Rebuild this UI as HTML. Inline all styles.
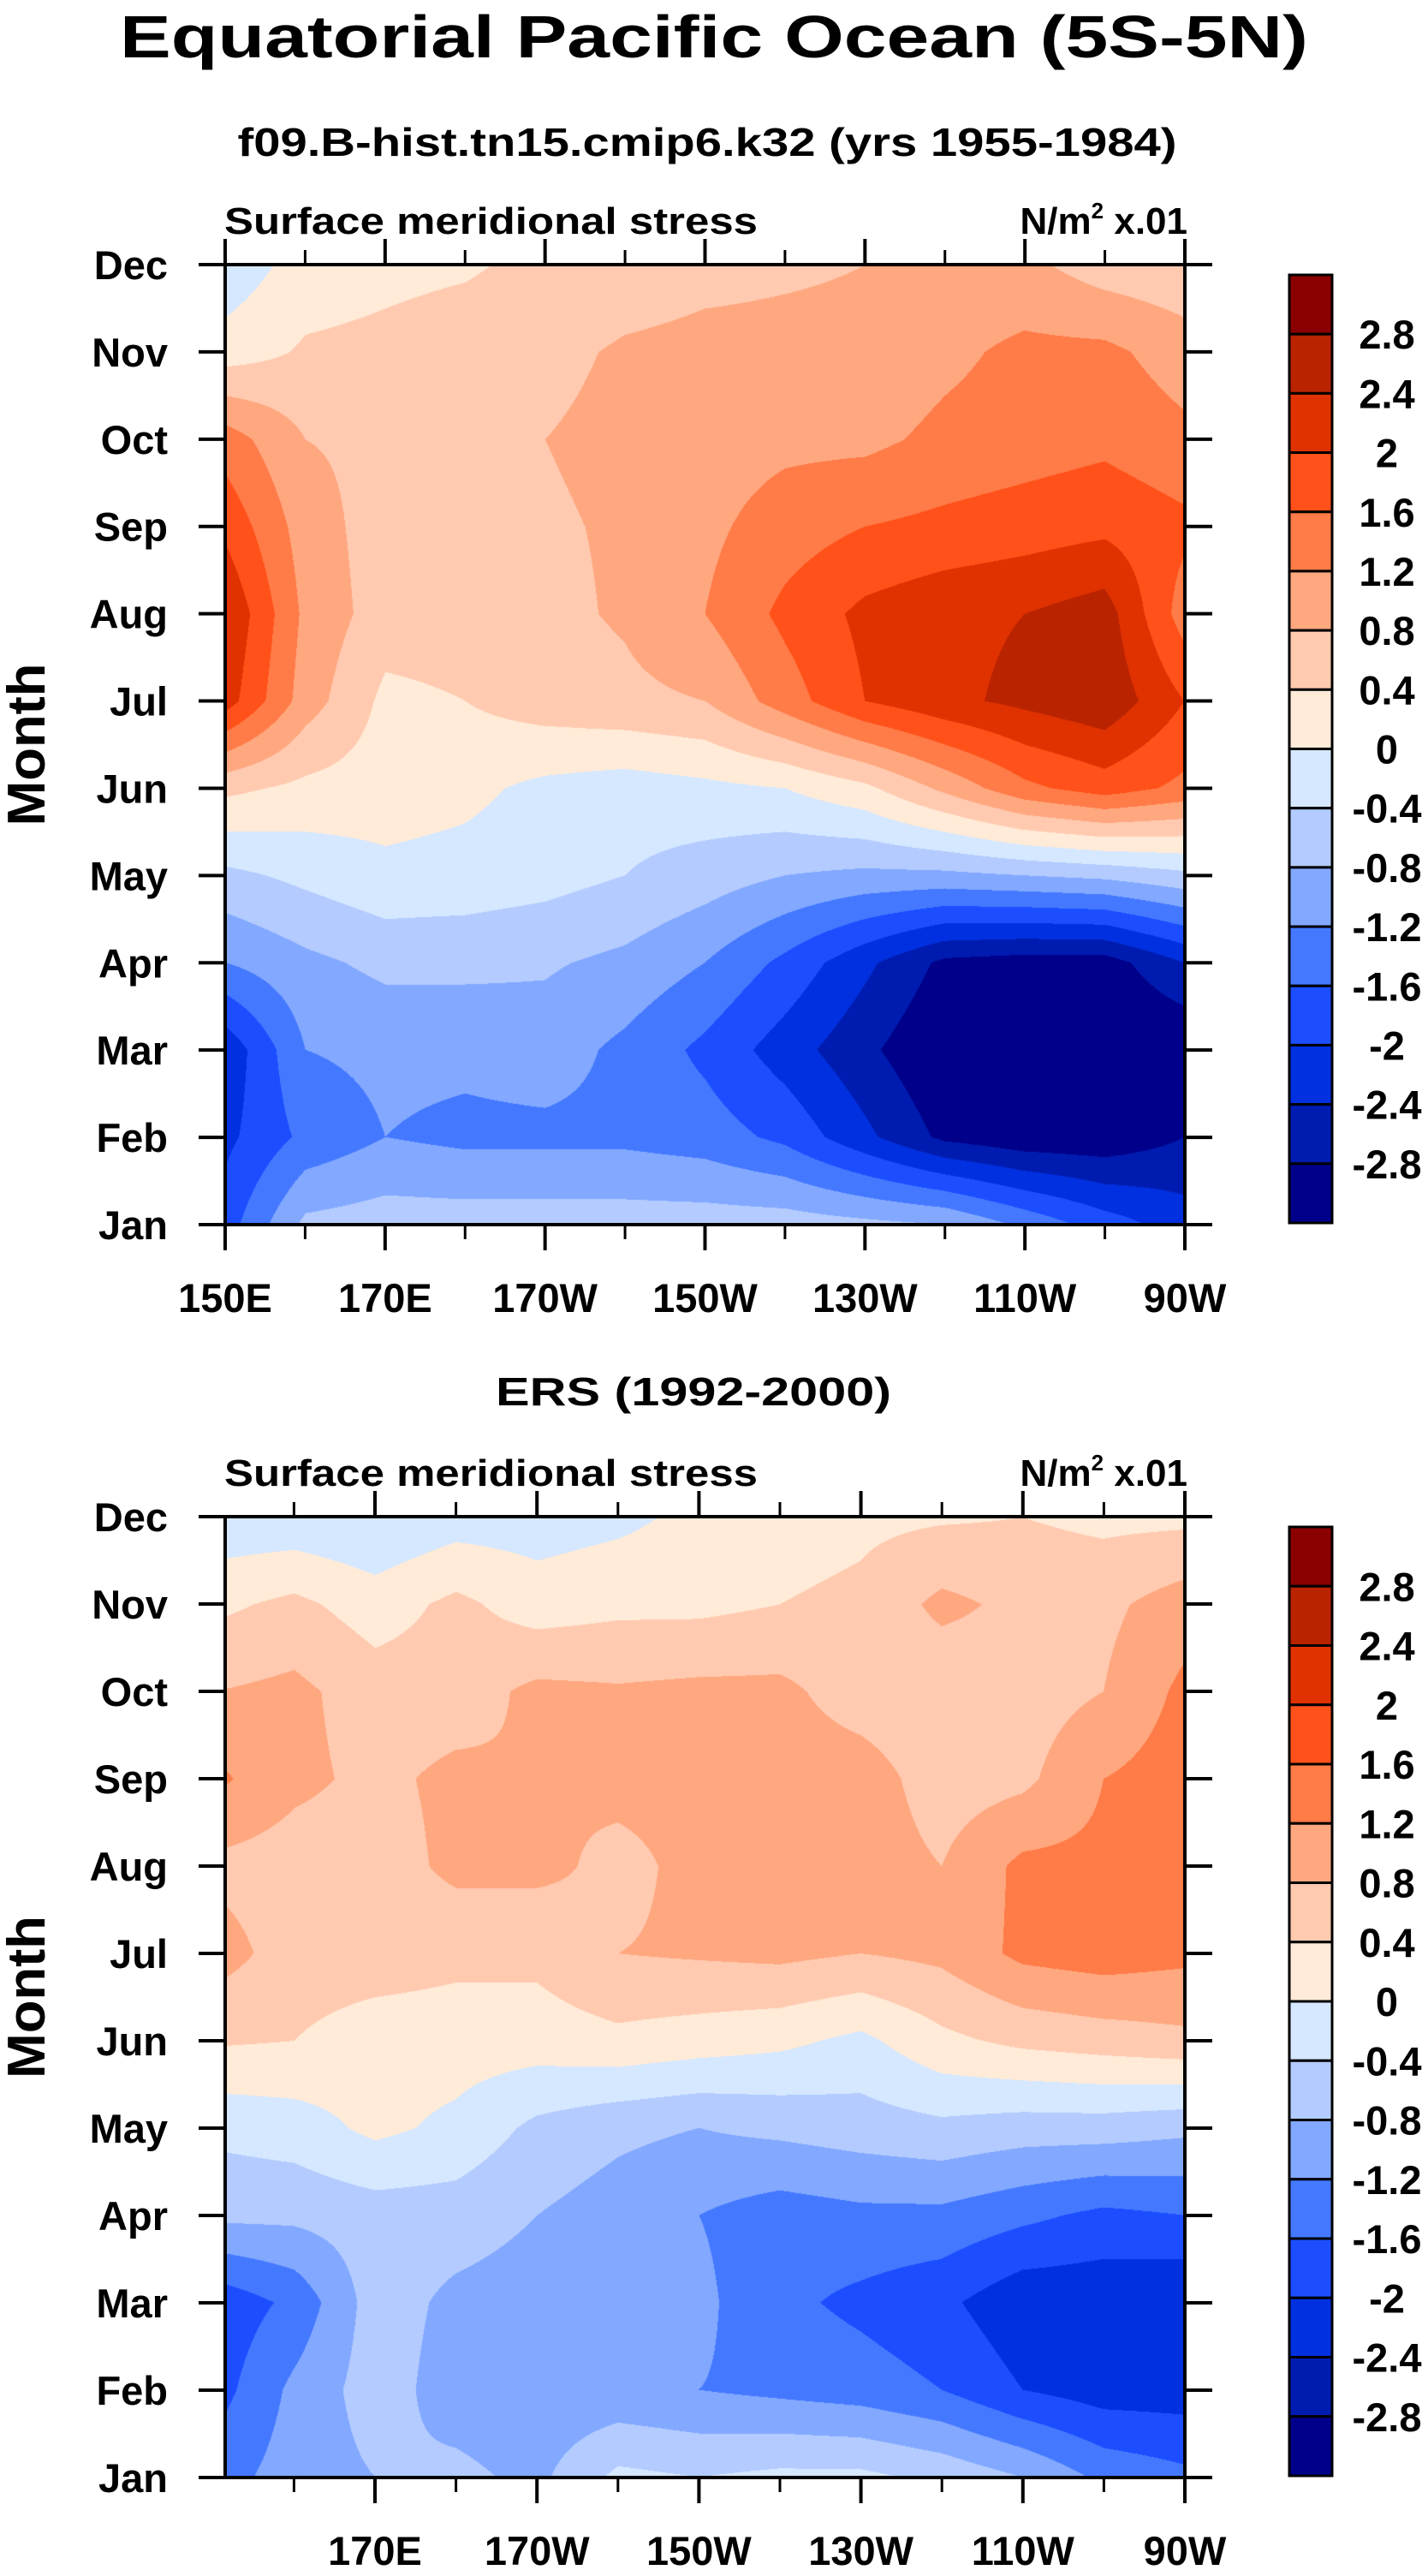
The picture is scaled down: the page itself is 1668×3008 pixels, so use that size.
<!DOCTYPE html>
<html><head><meta charset="utf-8"><style>
html,body{margin:0;padding:0;background:#fff;}
#wrap{position:relative;width:1668px;height:3008px;overflow:hidden;background:#fff;}
canvas{position:absolute;}
svg{position:absolute;left:0;top:0;}
text{font-family:"Liberation Sans",sans-serif;font-weight:bold;fill:#000;}
</style></head><body>
<div id="wrap">
<canvas id="c1" style="left:263px;top:309px" width="1121" height="1121"></canvas>
<canvas id="c2" style="left:263px;top:1771px" width="1121" height="1122"></canvas>
<svg id="s" width="1668" height="3008"></svg>
</div>
<script>
// ---- data ----
const months = ["Jan","Feb","Mar","Apr","May","Jun","Jul","Aug","Sep","Oct","Nov","Dec"];
const lonsDeg = [150,160,170,180,190,200,210,220,230,240,250,260,270]; // degrees east
const xTickLabelsTop = ["150E","170E","170W","150W","130W","110W","90W"];
const xTickValsTop = [150,170,190,210,230,250,270];
const xTickLabelsBot = ["170E","170W","150W","130W","110W","90W"];
const xTickValsBot = [170,190,210,230,250,270];
const levels = [-2.8,-2.4,-2,-1.6,-1.2,-0.8,-0.4,0,0.4,0.8,1.2,1.6,2,2.4,2.8];
const cbLabels = ["2.8","2.4","2","1.6","1.2","0.8","0.4","0","-0.4","-0.8","-1.2","-1.6","-2","-2.4","-2.8"];
const colors = ["#00008a","#001cb0","#0030df","#1c4eff","#4479ff","#82a8ff","#b3cbff","#d5e8ff","#ffebd8","#ffcab0","#ffa880","#ff7b47","#ff5119","#e03200","#b92300","#8b0000"];
// model rows Jan..Dec, cols 150E..90W
const model = [
[-1.8,-0.7,-0.6,-0.6,-0.6,-0.6,-0.6,-0.6,-0.7,-0.8,-1.3,-1.8,-2.2],
[-2.1,-1.5,-1.2,-1.3,-1.3,-1.3,-1.4,-1.7,-2.3,-2.9,-3.1,-3.1,-2.8],
[-2.3,-1.2,-1.1,-1.1,-1.0,-1.3,-1.7,-2.2,-2.7,-3.2,-3.3,-3.3,-3.2],
[-1.2,-0.9,-0.7,-0.7,-0.75,-0.9,-1.2,-1.7,-2.3,-2.9,-3.0,-3.0,-2.4],
[-0.5,-0.3,-0.1,-0.15,-0.25,-0.4,-0.6,-0.8,-0.9,-0.9,-0.8,-0.7,-0.5],
[0.5,0.3,0.2,0.1,-0.1,-0.2,-0.1,0.0,0.3,0.9,1.5,1.8,1.5],
[2.2,1.0,0.3,0.4,0.6,0.7,0.8,1.4,2.0,2.3,2.5,2.7,2.0],
[2.4,1.1,0.6,0.6,0.7,0.85,1.2,1.7,2.1,2.3,2.4,2.6,1.4],
[1.9,1.0,0.6,0.6,0.75,0.85,1.1,1.4,1.6,1.7,1.8,1.9,1.7],
[1.4,0.8,0.7,0.6,0.8,0.9,1.0,1.1,1.1,1.3,1.4,1.5,1.3],
[0.2,0.45,0.5,0.6,0.7,0.85,0.9,0.9,0.9,1.1,1.3,1.3,1.0],
[-0.3,0.2,0.3,0.35,0.5,0.6,0.7,0.75,0.8,0.9,0.9,0.6,0.5]];
const ers = [
[-1.4,-1.0,-0.8,-0.7,-0.9,-0.3,-0.4,-0.3,-0.3,-0.5,-0.8,-1.3,-1.5],
[-1.8,-1.1,-0.6,-1.0,-1.1,-1.1,-1.2,-1.3,-1.4,-1.6,-2.0,-2.2,-2.2],
[-1.9,-1.5,-0.6,-0.9,-1.0,-1.1,-1.1,-1.5,-1.7,-1.9,-2.3,-2.3,-2.4],
[-0.7,-0.7,-0.6,-0.6,-0.8,-1.0,-1.2,-1.4,-1.3,-1.3,-1.5,-1.7,-1.6],
[-0.3,-0.2,0.1,-0.1,-0.5,-0.7,-0.8,-0.7,-0.6,-0.5,-0.6,-0.6,-0.7],
[0.45,0.4,0.2,0.2,0.2,0.3,0.2,0.1,-0.1,0.3,0.5,0.6,0.7],
[1.0,0.6,0.6,0.5,0.5,0.8,0.85,0.9,0.8,0.9,1.3,1.4,1.3],
[0.7,0.6,0.6,0.9,0.9,0.7,0.9,1.0,1.0,0.8,1.3,1.3,1.4],
[1.3,0.9,0.7,0.9,0.8,0.9,0.9,1.0,1.0,0.6,0.7,1.2,1.4],
[0.8,0.9,0.6,0.6,0.9,0.85,0.9,0.9,0.6,0.5,0.6,0.8,1.3],
[0.3,0.5,0.2,0.5,0.2,0.3,0.3,0.4,0.5,0.9,0.7,0.7,1.0],
[-0.3,-0.3,-0.4,-0.2,-0.2,-0.1,0.1,0.2,0.3,0.35,0.4,0.3,0.3]];

// ---- geometry ----
const X0=263, X1=1384;
const panels=[{top:309,bot:1430,lon0:150,grid:model,canvas:'c1',xl:xTickLabelsTop,xv:xTickValsTop,minor:[160,180,200,220,240,260]},
              {top:1771,bot:2893,lon0:151.5,grid:ers,canvas:'c2',xl:xTickLabelsBot,xv:xTickValsBot,minor:[160,180,200,220,240,260]}];
function hex(c){return [parseInt(c.slice(1,3),16),parseInt(c.slice(3,5),16),parseInt(c.slice(5,7),16)];}
const rgb=colors.map(hex);
function colorIndex(v){let i=0;while(i<levels.length&&v>=levels[i])i++;return i;}
function interp(grid,lon,m){
  const fx=(lon-lonsDeg[0])/10, fy=m;
  let i=Math.max(0,Math.min(lonsDeg.length-2,Math.floor(fx))), j=Math.max(0,Math.min(10,Math.floor(fy)));
  const tx=Math.min(1,Math.max(0,fx-i)), ty=Math.min(1,Math.max(0,fy-j));
  const a=grid[j][i],b=grid[j][i+1],c=grid[j+1][i],d=grid[j+1][i+1];
  return a*(1-tx)*(1-ty)+b*tx*(1-ty)+c*(1-tx)*ty+d*tx*ty;
}
panels.forEach(p=>{
  const cv=document.getElementById(p.canvas),ctx=cv.getContext('2d');
  const W=cv.width,H=cv.height,img=ctx.createImageData(W,H);
  for(let y=0;y<H;y++){const m=11*(1-y/(H-1));
    for(let x=0;x<W;x++){const lon=p.lon0+(270-p.lon0)*x/(W-1);
      const c=rgb[colorIndex(interp(p.grid,lon,m))],k=(y*W+x)*4;
      img.data[k]=c[0];img.data[k+1]=c[1];img.data[k+2]=c[2];img.data[k+3]=255;}}
  ctx.putImageData(img,0,0);
});

// ---- svg overlay ----
const S=document.getElementById('s'),NS='http://www.w3.org/2000/svg';
function el(t,a,txt){const e=document.createElementNS(NS,t);for(const k in a)e.setAttribute(k,a[k]);if(txt!==undefined)e.textContent=txt;S.appendChild(e);return e;}
let e;
e=el('text',{x:834,y:67,'font-size':70,'text-anchor':'middle',textLength:1388,lengthAdjust:'spacingAndGlyphs'},'Equatorial Pacific Ocean (5S-5N)');


e=el('text',{x:826,y:182,'font-size':46,'text-anchor':'middle',textLength:1097,lengthAdjust:'spacingAndGlyphs'},'f09.B-hist.tn15.cmip6.k32 (yrs 1955-1984)');


e=el('text',{x:810,y:1641,'font-size':46,'text-anchor':'middle',textLength:462,lengthAdjust:'spacingAndGlyphs'},'ERS (1992-2000)');



panels.forEach((p,pi)=>{
  const H=p.bot-p.top;
  const xs=lon=>X0+(X1-X0)*(lon-p.lon0)/(270-p.lon0);
  const ys=m=>p.bot-H*m/11;
  e=el('text',{x:262,y:p.top-36,'font-size':44,textLength:623,lengthAdjust:'spacingAndGlyphs'},'Surface meridional stress');
  
  
  e=el('text',{x:1387,y:p.top-36,'font-size':44,'text-anchor':'end'});
  
  
  e.innerHTML='N/m<tspan dy="-18" font-size="26">2</tspan><tspan dy="18"> x.01</tspan>';
  e=el('text',{x:0,y:0,'font-size':62,'text-anchor':'middle',transform:`translate(52,${(p.top+p.bot)/2}) rotate(-90)`,textLength:190,lengthAdjust:'spacingAndGlyphs'},'Month');
  
  
  months.forEach((mn,i)=>{
    const y=ys(i);
    e=el('line',{x1:232,x2:263,y1:y,y2:y,stroke:'#000','stroke-width':4});
    
    
    e=el('line',{x1:1384,x2:1416,y1:y,y2:y,stroke:'#000','stroke-width':4});
    
    
    e=el('text',{x:196,y:y+17,'font-size':47,'text-anchor':'end'},mn);
    
    
  });
  p.xv.forEach((v,i)=>{
    const x=xs(v);
    e=el('line',{x1:x,x2:x,y1:p.top-30,y2:p.top,stroke:'#000','stroke-width':4});
    
    
    e=el('line',{x1:x,x2:x,y1:p.bot,y2:p.bot+30,stroke:'#000','stroke-width':4});
    
    
    e=el('text',{x:x,y:p.bot+102,'font-size':47,'text-anchor':'middle'},p.xl[i]);
    
    
  });
  p.minor.forEach(v=>{
    const x=xs(v);
    e=el('line',{x1:x,x2:x,y1:p.top-17,y2:p.top,stroke:'#000','stroke-width':3});
    
    
    e=el('line',{x1:x,x2:x,y1:p.bot,y2:p.bot+17,stroke:'#000','stroke-width':3});
    
    
  });
  e=el('rect',{x:X0,y:p.top,width:X1-X0,height:H,fill:'none',stroke:'#000','stroke-width':4});
  
  
  // colorbar
  const cbTop=p.top+12,cbH=H-14,bh=cbH/16;
  colors.slice().reverse().forEach((c,k)=>{
    e=el('rect',{x:1506,y:cbTop+k*bh,width:50,height:bh,fill:c,stroke:'#000','stroke-width':3});
    
    
  });
  cbLabels.forEach((l,k)=>{
    e=el('text',{x:1620,y:cbTop+(k+1)*bh+17,'font-size':47,'text-anchor':'middle'},l);
    
    
  });
});
</script>
</body></html>
